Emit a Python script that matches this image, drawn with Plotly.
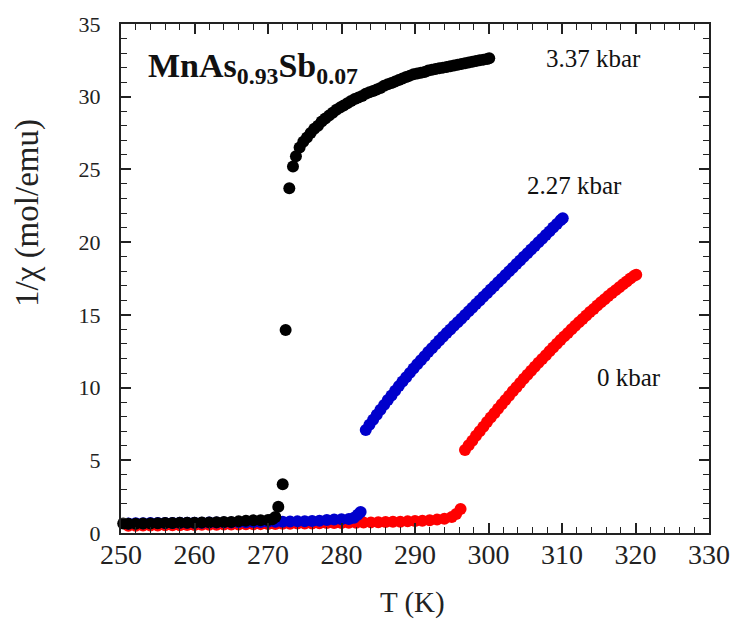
import plotly.graph_objects as go

# ---------------- data ----------------
# 3.37 kbar (black)
t_337 = [250.3, 251.0, 252.0, 253.0, 254.0, 255.0, 256.0, 257.0, 258.0, 259.0,
         260.0, 261.0, 262.0, 263.0, 264.0, 265.0, 266.0, 267.0, 268.0, 269.0,
         270.0, 270.6, 271.0, 271.4, 272.0, 272.4, 272.9,
         273.4, 273.8, 274.3, 274.8, 275.3, 275.8, 276.3, 276.8, 277.3, 277.8,
         278.3, 278.8, 279.3, 279.8, 280.3, 280.8, 281.3, 281.8, 282.3, 282.8,
         283.3, 283.8, 284.3, 284.8, 285.3, 285.8, 286.3, 286.8, 287.3, 287.8,
         288.3, 288.8, 289.3, 289.8, 290.3, 290.8, 291.3, 291.8, 292.3, 292.8,
         293.3, 293.8, 294.3, 294.8, 295.3, 295.8, 296.3, 296.8, 297.3, 297.8,
         298.3, 298.8, 299.3, 299.8, 300.1]
chi_337 = [0.65, 0.63, 0.64, 0.65, 0.66, 0.67, 0.68, 0.69, 0.70, 0.70,
           0.71, 0.72, 0.73, 0.74, 0.75, 0.76, 0.80, 0.85, 0.87, 0.88,
           0.90, 0.95, 1.10, 1.80, 3.35, 13.96, 23.7,
           25.2, 25.9, 26.5, 26.9, 27.2, 27.5, 27.8, 28.0, 28.3, 28.5,
           28.7, 28.9, 29.1, 29.25, 29.4, 29.55, 29.7, 29.85, 29.95, 30.05,
           30.2, 30.3, 30.4, 30.5, 30.6, 30.75, 30.85, 30.95, 31.05, 31.15,
           31.25, 31.35, 31.45, 31.55, 31.6, 31.65, 31.7, 31.8, 31.85, 31.9,
           31.95, 32.0, 32.05, 32.1, 32.15, 32.2, 32.25, 32.3, 32.35, 32.4,
           32.45, 32.5, 32.55, 32.6, 32.65]

# 2.27 kbar (blue)
t_227 = [251.0, 252.0, 253.0, 254.0, 255.0, 256.0, 257.0, 258.0, 259.0, 260.0,
         261.0, 262.0, 263.0, 264.0, 265.0, 266.0, 267.0, 268.0, 269.0, 270.0,
         271.0, 272.0, 273.0, 274.0, 275.0, 276.0, 277.0, 278.0, 279.0, 280.0,
         281.0, 281.7, 282.2, 282.6,
         283.3, 283.8, 284.3, 284.8, 285.3, 285.8, 286.3, 286.8, 287.3, 287.8,
         288.3, 288.8, 289.3, 289.8, 290.3, 290.8, 291.3, 291.8, 292.3, 292.8,
         293.3, 293.8, 294.3, 294.8, 295.3, 295.8, 296.3, 296.8, 297.3, 297.8,
         298.3, 298.8, 299.3, 299.8, 300.3, 300.8, 301.3, 301.8, 302.3, 302.8,
         303.3, 303.8, 304.3, 304.8, 305.3, 305.8, 306.3, 306.8, 307.3, 307.8,
         308.3, 308.8, 309.3, 309.8, 310.1]
chi_227 = [0.66, 0.67, 0.67, 0.68, 0.68, 0.69, 0.69, 0.70, 0.70, 0.71,
           0.71, 0.72, 0.72, 0.73, 0.73, 0.74, 0.74, 0.75, 0.76, 0.77,
           0.78, 0.78, 0.79, 0.80, 0.81, 0.82, 0.85, 0.90, 0.93, 0.95,
           0.97, 1.05, 1.25, 1.45,
           7.08, 7.44, 7.79, 8.13, 8.47, 8.81, 9.14, 9.46, 9.78, 10.10,
           10.41, 10.71, 11.01, 11.31, 11.60, 11.88, 12.16, 12.44, 12.71, 12.97,
           13.23, 13.49, 13.75, 14.00, 14.25, 14.49, 14.74, 14.99, 15.24, 15.49,
           15.74, 15.99, 16.24, 16.49, 16.74, 16.99, 17.24, 17.49, 17.74, 17.99,
           18.24, 18.49, 18.74, 18.99, 19.24, 19.49, 19.74, 19.99, 20.24, 20.49,
           20.74, 21.00, 21.25, 21.50, 21.65]

# 0 kbar (red)
t_0 = [251.0, 252.0, 253.0, 254.0, 255.0, 256.0, 257.0, 258.0, 259.0, 260.0,
       261.0, 262.0, 263.0, 264.0, 265.0, 266.0, 267.0, 268.0, 269.0, 270.0,
       271.0, 272.0, 273.0, 274.0, 275.0, 276.0, 277.0, 278.0, 279.0, 280.0,
       281.0, 282.0, 283.0, 284.0, 285.0, 286.0, 287.0, 288.0, 289.0, 290.0,
       291.0, 292.0, 293.0, 294.0, 295.0, 295.6, 296.2,
       296.8, 297.3, 297.8, 298.3, 298.8, 299.3, 299.8, 300.3, 300.8, 301.3,
       301.8, 302.3, 302.8, 303.3, 303.8, 304.3, 304.8, 305.3, 305.8, 306.3,
       306.8, 307.3, 307.8, 308.3, 308.8, 309.3, 309.8, 310.3, 310.8, 311.3,
       311.8, 312.3, 312.8, 313.3, 313.8, 314.3, 314.8, 315.3, 315.8, 316.3,
       316.8, 317.3, 317.8, 318.3, 318.8, 319.3, 319.8, 320.1]
chi_0 = [0.50, 0.50, 0.51, 0.52, 0.52, 0.53, 0.53, 0.54, 0.55, 0.55,
         0.56, 0.56, 0.57, 0.58, 0.58, 0.59, 0.60, 0.60, 0.61, 0.62,
         0.62, 0.63, 0.64, 0.65, 0.65, 0.66, 0.67, 0.68, 0.68, 0.69,
         0.70, 0.70, 0.72, 0.73, 0.74, 0.75, 0.77, 0.78, 0.80, 0.82,
         0.85, 0.88, 0.92, 0.98, 1.10, 1.30, 1.65,
         5.70, 6.03, 6.35, 6.68, 7.00, 7.31, 7.63, 7.94, 8.24, 8.55,
         8.85, 9.15, 9.44, 9.74, 10.03, 10.31, 10.60, 10.88, 11.15, 11.43,
         11.70, 11.97, 12.23, 12.50, 12.76, 13.01, 13.27, 13.52, 13.76, 14.01,
         14.25, 14.49, 14.72, 14.96, 15.19, 15.41, 15.64, 15.86, 16.07, 16.29,
         16.50, 16.70, 16.90, 17.10, 17.30, 17.50, 17.68, 17.76]

series_names = ["0 kbar", "2.27 kbar", "3.37 kbar"]
series_colors = ["#ff0000", "#0000cc", "#000000"]

x_ticks = [250, 260, 270, 280, 290, 300, 310, 320, 330]
y_ticks = [0, 5, 10, 15, 20, 25, 30, 35]

# ---------------- figure ----------------
SERIF = "Liberation Serif, Times New Roman, serif"
fig = go.Figure()
for t, c, name, col in zip([t_0, t_227, t_337], [chi_0, chi_227, chi_337],
                           series_names, series_colors):
    fig.add_trace(go.Scatter(x=t, y=c, mode="markers", name=name,
                             marker=dict(size=12, color=col, line=dict(width=0)),
                             cliponaxis=False, showlegend=False))

axis_common = dict(showline=True, linecolor="#222", linewidth=2, mirror="allticks",
                   ticks="inside", ticklen=10, tickwidth=1.5, tickcolor="#222",
                   showgrid=False, zeroline=False, automargin=False)

fig.update_xaxes(range=[250, 330], tickvals=x_ticks, ticktext=[str(v) for v in x_ticks],
                 minor=dict(dtick=2, ticks="inside", ticklen=6, tickwidth=1.2, tickcolor="#222"),
                 tickfont=dict(family=SERIF, size=28, color="#222"),
                 ticklabelstandoff=-5, **axis_common)
fig.update_yaxes(range=[0, 35], tickvals=y_ticks, ticktext=[str(v) for v in y_ticks],
                 minor=dict(dtick=1, ticks="inside", ticklen=6, tickwidth=1.2, tickcolor="#222"),
                 tickfont=dict(family=SERIF, size=22, color="#222"),
                 ticklabelstandoff=14, **axis_common)

annotations = [
    dict(text="<b>MnAs<sub>0.93</sub>Sb<sub>0.07</sub></b>", x=253.4, y=32.0,
         xref="x", yref="y", xanchor="left", yanchor="middle", showarrow=False,
         font=dict(family=SERIF, size=34, color="#111")),
    dict(text="3.37 kbar", x=307.6, y=32.6, xref="x", yref="y", xanchor="left",
         yanchor="middle", showarrow=False, font=dict(family=SERIF, size=25, color="#111")),
    dict(text="2.27 kbar", x=304.9, y=23.9, xref="x", yref="y", xanchor="left",
         yanchor="middle", showarrow=False, font=dict(family=SERIF, size=25, color="#111")),
    dict(text="0 kbar", x=314.5, y=10.7, xref="x", yref="y", xanchor="left",
         yanchor="middle", showarrow=False, font=dict(family=SERIF, size=25, color="#111")),
    dict(text="T (K)", x=0.495, y=-0.1375, xref="paper", yref="paper", xanchor="center",
         yanchor="middle", showarrow=False, font=dict(family=SERIF, size=29, color="#222")),
    dict(text="1/χ (mol/emu)", x=-0.158, y=0.629, xref="paper", yref="paper",
         xanchor="center", yanchor="middle", textangle=-90, showarrow=False,
         font=dict(family=SERIF, size=33, color="#222")),
]

fig.update_layout(width=734, height=621, margin=dict(l=121, r=25, t=24, b=88),
                  paper_bgcolor="white", plot_bgcolor="white",
                  annotations=annotations, showlegend=False)

# remove the browser's default 8 px body margin so the figure fills the window exactly
fig.write_html("out.html", config={"displayModeBar": False},
               post_script="document.body.style.margin='0';document.body.style.overflow='hidden';")
